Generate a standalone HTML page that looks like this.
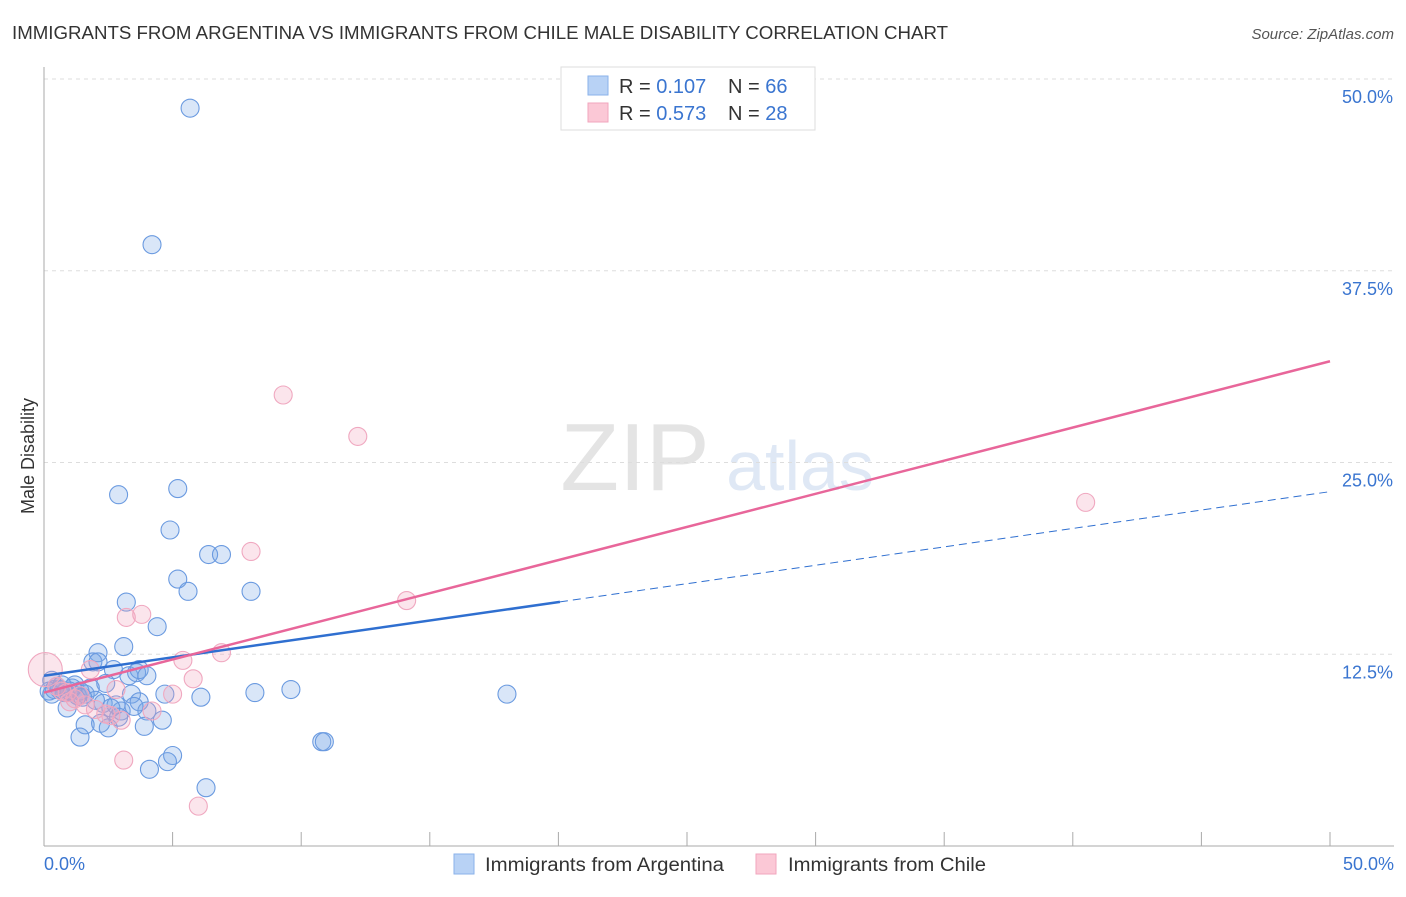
<!DOCTYPE html>
<html><head><meta charset="utf-8"><style>
body{margin:0;background:#fff;font-family:"Liberation Sans",sans-serif}
svg text{font-family:"Liberation Sans",sans-serif}
</style></head><body>
<svg id="c" width="1406" height="892">
<text x="12" y="39" font-size="18" fill="#333" textLength="936" lengthAdjust="spacingAndGlyphs">IMMIGRANTS FROM ARGENTINA VS IMMIGRANTS FROM CHILE MALE DISABILITY CORRELATION CHART</text>
<text x="1394" y="39" font-size="15" fill="#555" font-style="italic" text-anchor="end">Source: ZipAtlas.com</text>
<text x="635" y="490" font-size="96" fill="#e4e4e4" font-family="Liberation Serif" text-anchor="middle">ZIP</text>
<text x="800" y="490" font-size="70" fill="#dfe8f5" text-anchor="middle">atlas</text>
<text transform="translate(34,456) rotate(-90)" font-size="18" fill="#333" text-anchor="middle">Male Disability</text>
<g id="grid"></g><g id="pts"></g><g id="lines"></g>
<g>
<rect x="561" y="67" width="254" height="63" fill="#fff" stroke="#ddd"/>
<rect x="588" y="76" width="20" height="19" fill="#b8d2f5" stroke="#8ab2ea"/>
<rect x="588" y="103" width="20" height="19" fill="#fbc8d6" stroke="#f2a6bd"/>
<text x="619" y="93" font-size="20" fill="#333">R = <tspan fill="#3a75d0">0.107</tspan></text>
<text x="728" y="93" font-size="20" fill="#333">N = <tspan fill="#3a75d0">66</tspan></text>
<text x="619" y="120" font-size="20" fill="#333">R = <tspan fill="#3a75d0">0.573</tspan></text>
<text x="728" y="120" font-size="20" fill="#333">N = <tspan fill="#3a75d0">28</tspan></text>
</g>
<g>
<rect x="454" y="854" width="20" height="20" fill="#b8d2f5" stroke="#8ab2ea"/>
<text x="485" y="871" font-size="19" fill="#333" textLength="239" lengthAdjust="spacingAndGlyphs">Immigrants from Argentina</text>
<rect x="756" y="854" width="20" height="20" fill="#fbc8d6" stroke="#f2a6bd"/>
<text x="788" y="871" font-size="19" fill="#333" textLength="198" lengthAdjust="spacingAndGlyphs">Immigrants from Chile</text>
</g>
</svg>
<script>
const yTicks=[12.5,25.0,37.5,50.0];
const xTickLabels=["0.0%","50.0%"];
const blueX=[5.68,4.2,5.2,2.9,4.9,6.4,6.9,5.2,5.6,8.05,3.2,4.4,3.1,2.1,1.9,2.1,2.7,3.3,3.6,3.7,4.0,2.4,1.2,0.3,0.2,0.4,0.6,0.8,1.0,1.4,1.6,3.4,4.7,6.1,8.2,9.6,18.0,3.7,2.3,2.8,3.0,0.9,4.0,4.6,3.9,1.6,2.2,2.5,1.4,10.8,10.9,5.0,4.8,4.1,6.3,0.5,1.1,1.3,0.7,2.6,3.5,1.8,2.0,0.3,1.5,2.9];
const blueY=[48.1,39.2,23.3,22.9,20.6,19.0,19.0,17.4,16.6,16.6,15.9,14.3,13.0,12.6,12.0,12.0,11.5,11.1,11.3,11.5,11.1,10.6,10.5,10.8,10.1,10.2,10.2,10.0,10.1,10.1,9.9,9.9,9.9,9.7,10.0,10.2,9.9,9.4,9.3,9.2,8.8,9.0,8.8,8.2,7.8,7.9,8.0,7.7,7.1,6.8,6.8,5.9,5.5,5.0,3.8,10.4,10.3,9.8,10.5,9.0,9.1,10.3,9.5,9.9,9.7,8.4];
const pinkX=[9.3,12.2,40.5,8.05,14.1,3.8,3.2,6.9,5.4,5.8,5.0,4.2,3.1,6.0,0.05,1.8,2.8,0.5,0.9,1.2,1.6,2.0,2.4,0.7,1.4,2.6,1.0,3.0];
const pinkY=[29.4,26.7,22.4,19.2,16.0,15.1,14.9,12.6,12.1,10.9,9.9,8.8,5.6,2.6,11.5,11.5,10.2,10.4,10.0,9.6,9.2,8.9,8.6,10.1,9.8,8.5,9.4,8.2];
const blueTrend=[11.1,23.1], pinkTrend=[10.0,31.6];
const X=v=>44+v*25.72, Y=v=>846-v*15.34;
const NS="http://www.w3.org/2000/svg";
function mk(t,a,p){const e=document.createElementNS(NS,t);for(const k in a)e.setAttribute(k,a[k]);p.appendChild(e);return e;}
const g=document.getElementById('grid');
yTicks.forEach(t=>{
 const l=mk('line',{x1:44,x2:1394,y1:Y(t),y2:Y(t),stroke:'#ddd','stroke-dasharray':'4,4'},g);
 
 
 const tx=mk('text',{x:1393,y:Y(t)+24,'font-size':18,fill:'#3a75d0','text-anchor':'end'},g);
 tx.textContent=t.toFixed(1)+'%';
 
 
});
const ax=mk('line',{x1:44,x2:44,y1:67,y2:846,stroke:'#aaa'},g);


const bx=mk('line',{x1:44,x2:1394,y1:846,y2:846,stroke:'#aaa'},g);


for(let i=1;i<=10;i++){const t=mk('line',{x1:X(i*5),x2:X(i*5),y1:832,y2:846,stroke:'#aaa'},g);
 
 }
[[0,'start',44],[50,'end',1394]].forEach((d,i)=>{const t=mk('text',{x:d[2],y:870,'font-size':18,fill:'#3a75d0','text-anchor':d[1]},g);t.textContent=xTickLabels[i];
 
 });
const p=document.getElementById('pts');
blueX.forEach((x,i)=>{const c=mk('circle',{cx:X(x),cy:Y(blueY[i]),r:9,fill:'rgba(120,165,230,0.28)',stroke:'#6a9ae0','stroke-width':1.1},p);
 
 });
pinkX.forEach((x,i)=>{const c=mk('circle',{cx:X(x),cy:Y(pinkY[i]),r:i==14?17:9,fill:'rgba(240,160,185,0.28)',stroke:'#f0a8c0','stroke-width':1.1},p);
 
 });
const L=document.getElementById('lines');
const bt=v=>blueTrend[0]+(blueTrend[1]-blueTrend[0])*v/50;
let a=mk('line',{x1:X(0),y1:Y(bt(0)),x2:X(20.06),y2:Y(bt(20.06)),stroke:'#2f6fd0','stroke-width':2.5},L);


a=mk('line',{x1:X(20.06),y1:Y(bt(20.06)),x2:X(50),y2:Y(bt(50)),stroke:'#2f6fd0','stroke-width':1,'stroke-dasharray':'8,5'},L);


a=mk('line',{x1:X(0),y1:Y(pinkTrend[0]),x2:X(50),y2:Y(pinkTrend[1]),stroke:'#e8669a','stroke-width':2.5},L);


</script>
</body></html>
